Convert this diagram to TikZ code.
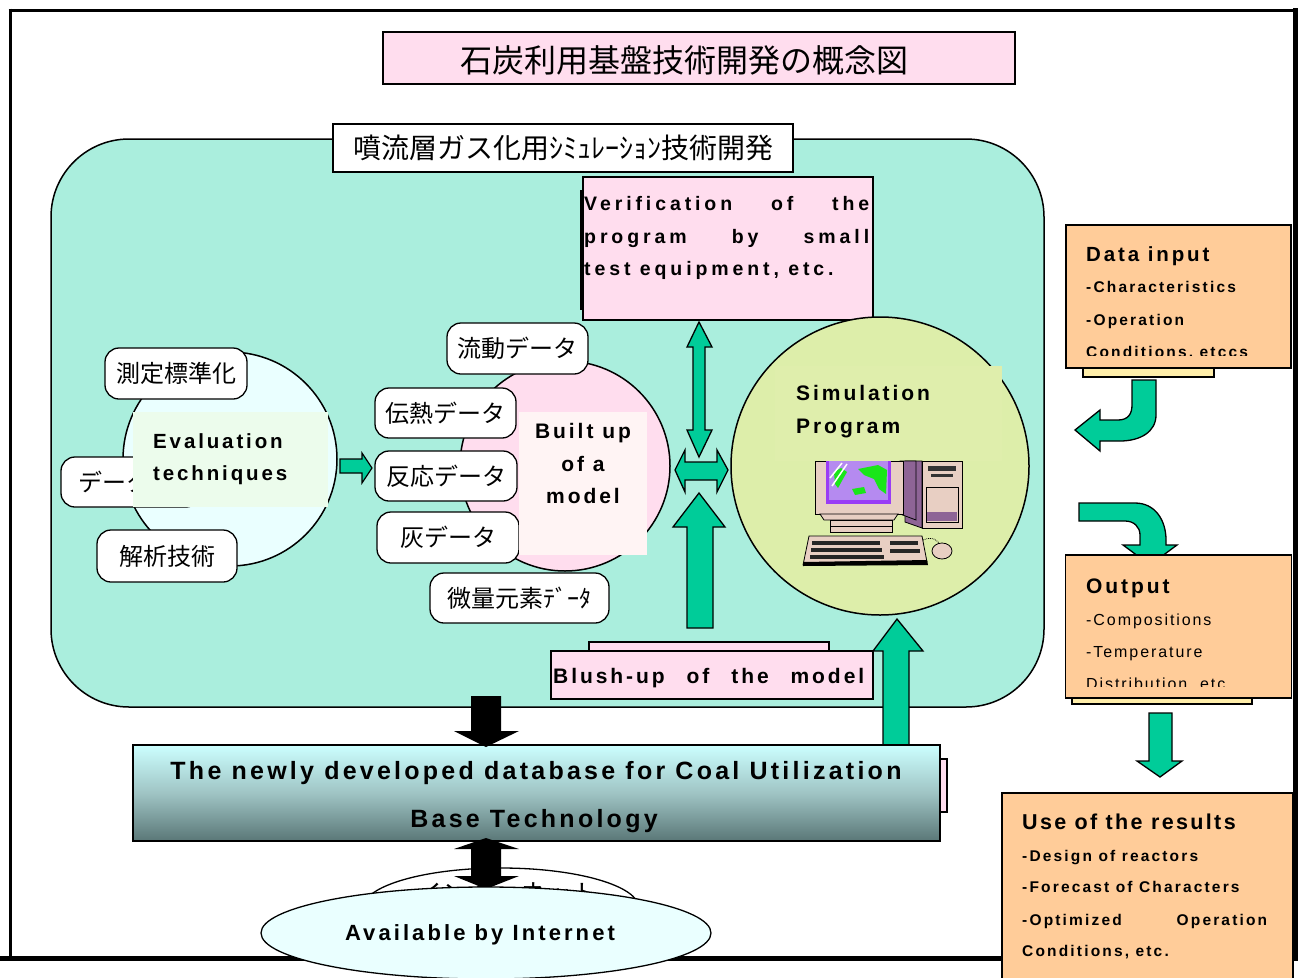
\documentclass[tikz,border=0pt]{standalone}
\usepackage{fontspec}
\setmainfont{Liberation Sans}
\newfontfamily\jp{Noto Sans CJK JP}
\usetikzlibrary{shapes.geometric}

\definecolor{teal0}{HTML}{AAEEDD}
\definecolor{pink0}{HTML}{FFDDEE}
\definecolor{green0}{HTML}{00CC99}
\definecolor{orange0}{HTML}{FFCC99}
\definecolor{lime0}{HTML}{DDEEAA}
\definecolor{limeR}{HTML}{DFEEAC}
\definecolor{ice}{HTML}{EAFFFF}
\definecolor{mint}{HTML}{ECFCEC}
\definecolor{blush}{HTML}{FFF4F4}
\definecolor{cream}{HTML}{FFEEAA}
\definecolor{dbtop}{HTML}{CCFFFF}
\definecolor{dbmid}{HTML}{9FC4C4}
\definecolor{dbbot}{HTML}{5A7777}
\definecolor{beige}{HTML}{E8CFC3}
\definecolor{plum}{HTML}{8E6496}
\definecolor{scrn}{HTML}{B58AF0}
\definecolor{scrn2}{HTML}{9A3CF5}
\definecolor{land}{HTML}{19E619}

\tikzset{
  lab/.style={inner sep=0pt, font=\fontsize{#1}{#1}\selectfont\bfseries\addfontfeature{LetterSpace=14}},
  labw/.style={inner sep=0pt, font=\fontsize{#1}{#1}\selectfont\bfseries\addfontfeature{LetterSpace=20}},
  labn/.style={inner sep=0pt, font=\fontsize{#1}{#1}\selectfont\bfseries\addfontfeature{LetterSpace=11}},
  labd/.style={inner sep=0pt, font=\fontsize{#1}{#1}\selectfont\bfseries\addfontfeature{LetterSpace=13}},
  labr/.style={inner sep=0pt, font=\fontsize{#1}{#1}\selectfont\addfontfeature{LetterSpace=12}},
  pill/.style={draw=black, line width=1.3pt, fill=white, rounded corners=14pt, inner sep=0pt,
    font=\jp\fontsize{24}{24}\selectfont},
  bubble/.style={circle, draw=black, line width=1.5pt, inner sep=0pt},
  boxed/.style={draw=black, line width=1.5pt, inner sep=0pt},
  blk/.style={draw=black, line width=1.3pt, fill=green0},
}

\begin{document}
\begin{tikzpicture}[x=1pt, y=-1pt, line join=miter]
\useasboundingbox (0,0) rectangle (1300,977);
\fill[white] (0,0) rectangle (1300,977);

% outer frame
\draw[line width=3pt] (10,8.5) -- (10,960);
\draw[line width=3pt] (8.5,10) -- (1297,10);
\draw[line width=5pt] (1295,8) -- (1295,960);
\draw[line width=5pt] (0,958) -- (1297.5,958);

% heading
\node[boxed, fill=pink0, minimum width=632pt, minimum height=52pt] (title) at (699,58) {};
\node[inner sep=0pt, font=\jp\fontsize{32}{32}\selectfont] (titletext) at (684,60) {石炭利用基盤技術開発の概念図};

% simulation development area
\draw[line width=1.5pt, fill=teal0, rounded corners=78pt] (51,139) rectangle (1044,707);
\node[boxed, fill=white, minimum width=460pt, minimum height=48pt,
  font=\jp\fontsize{28}{28}\selectfont] (subtitle) at (563,148) {噴流層ガス化用ｼﾐｭﾚｰｼｮﾝ技術開発};

% verification box
\draw[line width=2pt] (581,190) -- (581,310);
\node[boxed, fill=pink0, minimum width=290pt, minimum height=143pt] (verif) at (728,248.5) {};
\node[labw=19.5, anchor=base west] (v1) at (584,210) {\makebox[285pt][l]{Verification\hfill of\hfill the}};
\node[labw=19.5, anchor=base west] (v2) at (584,243) {\makebox[285pt][l]{program\hfill by\hfill small}};
\node[labw=19.5, anchor=base west] (v3) at (584,275) {test equipment, etc.};

% evaluation techniques
\node[bubble, fill=ice, minimum size=214pt] (evalc) at (230,459) {};
\node[pill, minimum width=142pt, minimum height=51pt] (sokutei) at (176,373.5) {測定標準化};
\node[pill, text width=105pt, align=left, inner xsep=17pt, minimum height=50pt] (deta) at (130.5,482) {データ};
\node[pill, minimum width=140pt, minimum height=52pt] (kaiseki) at (167,556) {解析技術};
\node[fill=mint, minimum width=195pt, minimum height=95pt, inner sep=0pt] (evalr) at (230.5,459.5) {};
\node[lab=20.5, anchor=base west] (e1) at (153,448) {Evaluation};
\node[lab=20.5, anchor=base west] (e2) at (153,480) {techniques};

\draw[blk, line width=1.2pt] (340,459) -- (362,459) -- (362,453) -- (372,468) -- (362,483) -- (362,473) -- (340,473) -- cycle;

% model building
\node[bubble, fill=pink0, minimum size=210pt] (modelc) at (565,466) {};
\node[pill, minimum width=141pt, minimum height=51pt] (ryudo) at (517.5,348.5) {流動データ};
\node[pill, minimum width=141pt, minimum height=50pt] (dennetsu) at (445.5,413) {伝熱データ};
\node[pill, minimum width=142pt, minimum height=50pt] (hanno) at (446,476) {反応データ};
\node[pill, minimum width=142pt, minimum height=51pt] (hai) at (448,537.5) {灰データ};
\node[pill, minimum width=179pt, minimum height=50pt] (biryo) at (519.5,598) {微量元素ﾃﾞｰﾀ};
\node[fill=blush, minimum width=128pt, minimum height=143pt, inner sep=0pt] (modelr) at (583,483.5) {};
\node[lab=21, anchor=base] (m1) at (583,438) {Built up};
\node[lab=21, anchor=base] (m2) at (583,471) {of a};
\node[lab=21, anchor=base] (m3) at (583,503) {model};

% simulation program
\node[bubble, fill=lime0, minimum size=298pt] (simc) at (880,466) {};
\node[fill=limeR, minimum width=227pt, minimum height=95pt, inner sep=0pt] (simr) at (888.5,413.5) {};
\node[lab=21, anchor=base west] (s1) at (796,400) {Simulation};
\node[lab=21, anchor=base west] (s2) at (796,433) {Program};

% workstation
\begin{scope}[line width=0.8pt]
  \filldraw[fill=plum] (905,461) -- (922,461) -- (922,528) -- (905,522) -- cycle;
  \filldraw[fill=beige] (922,461) rectangle (962,528);
  \fill[black!80] (928,466) rectangle (956,471);
  \fill[black!80] (931,474) rectangle (953,477);
  \draw (926,487) rectangle (958,522);
  \fill[plum] (927,512) rectangle (957,521);
  \filldraw[fill=plum] (900,461) -- (916,461) -- (916,520) -- (900,514) -- cycle;
  \filldraw[fill=beige] (815,461) rectangle (903,514);
  \fill[scrn2] (826,461) rectangle (891,504);
  \fill[scrn] (829,461) rectangle (888,500);
  \fill[land] (834,472) -- (841,468) -- (847,472) -- (843,479) -- (838,488) -- (835,484) -- cycle;
  \fill[land] (858,469) -- (878,465) -- (887,470) -- (886,494) -- (879,489) -- (874,479) -- (864,475) -- cycle;
  \fill[land] (852,489) -- (864,487) -- (866,493) -- (855,495) -- cycle;
  \draw[white, line width=1.5pt] (830,478) -- (842,463);
  \draw[white, line width=1.5pt] (832,486) -- (847,464);
  \filldraw[fill=beige] (820,514) -- (898,514) -- (894,520) -- (824,520) -- cycle;
  \filldraw[fill=beige] (830,520) rectangle (892,532);
  \draw (830,526) -- (892,526);
  \filldraw[fill=beige] (809,536) -- (922,536) -- (927,562) -- (803,565) -- cycle;
  \fill[black!85] (812,541) rectangle (880,545);
  \fill[black!85] (811,548) rectangle (882,552);
  \fill[black!85] (810,555) rectangle (884,559);
  \fill[black!85] (890,541) rectangle (918,545);
  \fill[black!85] (890,549) rectangle (920,553);
  \fill[black] (803,562) -- (927,560) -- (928,565) -- (803,566) -- cycle;
  \draw[densely dotted] (923,540) .. controls (932,536) and (938,540) .. (940,545);
  \filldraw[fill=beige] (942,551) ellipse [x radius=10, y radius=8];
\end{scope}

% exchange arrows around the model
\draw[blk] (699,322) -- (712,347) -- (705,347) -- (705,430) -- (712,430) -- (699,457) -- (687,430) -- (693,430) -- (693,347) -- (687,347) -- cycle;
\draw[blk] (675,470) -- (685,450) -- (685,462) -- (717,462) -- (717,450) -- (728,470) -- (717,492) -- (717,480) -- (685,480) -- (685,492) -- cycle;
\draw[blk] (699,493) -- (725,527) -- (713,527) -- (713,628) -- (687,628) -- (687,527) -- (673,527) -- cycle;

% brush-up of the model
\draw[line width=1.3pt, fill=pink0] (589,642) rectangle (829,660);
\node[boxed, fill=pink0, minimum width=322pt, minimum height=48pt] (blush) at (712,675) {};
\node[lab=21, anchor=base west] (b1) at (553,683) {\makebox[311pt][l]{Blush-up\hfill of\hfill the\hfill model}};

\draw[blk] (897,619) -- (923,651) -- (909,651) -- (909,746) -- (883,746) -- (883,651) -- (873,651) -- cycle;

% database
\draw[line width=1.2pt, fill=pink0] (936,759) rectangle (947,812);
\node[boxed, top color=dbtop, bottom color=dbbot, middle color=dbmid,
  minimum width=807pt, minimum height=96pt] (db) at (536.5,793) {};
\node[labd=25, anchor=base] (d1) at (536,779) {The newly developed database for Coal Utilization};
\node[labd=25, anchor=base] (d2) at (534,827) {Base Technology};

\fill[black] (471,696) -- (501,696) -- (501,731) -- (519,731) -- (486,747) -- (454,731) -- (471,731) -- cycle;

% internet access
\node[ellipse, draw, line width=1.3pt, fill=white, minimum width=276pt, minimum height=80pt, inner sep=0pt] (inet) at (501,908) {};
\node[font=\jp\fontsize{26}{26}\selectfont, anchor=base, inner sep=0pt] (inetj) at (507,903) {インターネット};
\fill[black] (486,838) -- (519,849) -- (501,849) -- (501,876) -- (519,876) -- (486,889) -- (454,876) -- (471,876) -- (471,849) -- (454,849) -- cycle;
\node[ellipse, draw, line width=1.3pt, fill=ice, minimum width=450pt, minimum height=92pt, inner sep=0pt] (avail) at (486,933) {};
\node[lab=22, anchor=base] (a1) at (480,940) {Available by Internet};

% data input
\draw[line width=1.2pt, fill=cream] (1083,366) rectangle (1214,377);
\node[boxed, fill=orange0, minimum width=225pt, minimum height=143pt] (input) at (1178.5,296.5) {};
\begin{scope}
  \clip (1066,225) rectangle (1291,355);
  \node[lab=20.5, anchor=base west] (i1) at (1086,261) {Data input};
  \node[lab=15.5, anchor=base west] (i2) at (1086,292) {-Characteristics};
  \node[lab=15.5, anchor=base west] (i3) at (1086,325) {-Operation};
  \node[lab=15.5, anchor=base west] (i4) at (1086,357) {Conditions, etccs};
\end{scope}

% turning arrows
\draw[blk] (1132,380) -- (1156,380) -- (1156,415) .. controls (1156,432) and (1140,441) .. (1120,441) -- (1100,441) -- (1100,451) -- (1075,430) -- (1100,410) -- (1100,420) -- (1118,420) .. controls (1128,420) and (1132,414) .. (1132,405) -- cycle;
\draw[blk] (1079,503) -- (1135,503) .. controls (1155,503) and (1166,520) .. (1166,540) -- (1166,545) -- (1177,545) -- (1150,565) -- (1123,545) -- (1140,545) -- (1140,535) .. controls (1140,527) and (1134,521) .. (1125,521) -- (1079,521) -- cycle;

% output
\draw[line width=1.2pt, fill=cream] (1072,696) rectangle (1252,704);
\node[boxed, fill=orange0, minimum width=226pt, minimum height=143pt] (output) at (1178.5,626.5) {};
\begin{scope}
  \clip (1066,555) rectangle (1291,686);
  \node[lab=21, anchor=base west] (o1) at (1086,593) {Output};
  \node[labr=16, anchor=base west] (o2) at (1086,625) {-Compositions};
  \node[labr=16, anchor=base west] (o3) at (1086,657) {-Temperature};
  \node[labr=16, anchor=base west] (o4) at (1086,689) {Distribution, etc};
\end{scope}

\draw[blk] (1149,713) -- (1172,713) -- (1172,761) -- (1182,761) -- (1160,777) -- (1137,761) -- (1149,761) -- cycle;

% use of the results
\draw[line width=1.5pt, fill=orange0] (1002,793) rectangle (1293,990);
\node[labn=21.5, anchor=base west] (u1) at (1022,829) {Use of the results};
\node[lab=15.5, anchor=base west] (u2) at (1022,861) {-Design of reactors};
\node[lab=15.5, anchor=base west] (u3) at (1022,892) {-Forecast of Characters};
\node[lab=15.5, anchor=base west] (u4) at (1022,925) {\makebox[245pt][l]{-Optimized\hfill Operation}};
\node[lab=15.5, anchor=base west] (u5) at (1022,956) {Conditions, etc.};
\end{tikzpicture}
\end{document}
